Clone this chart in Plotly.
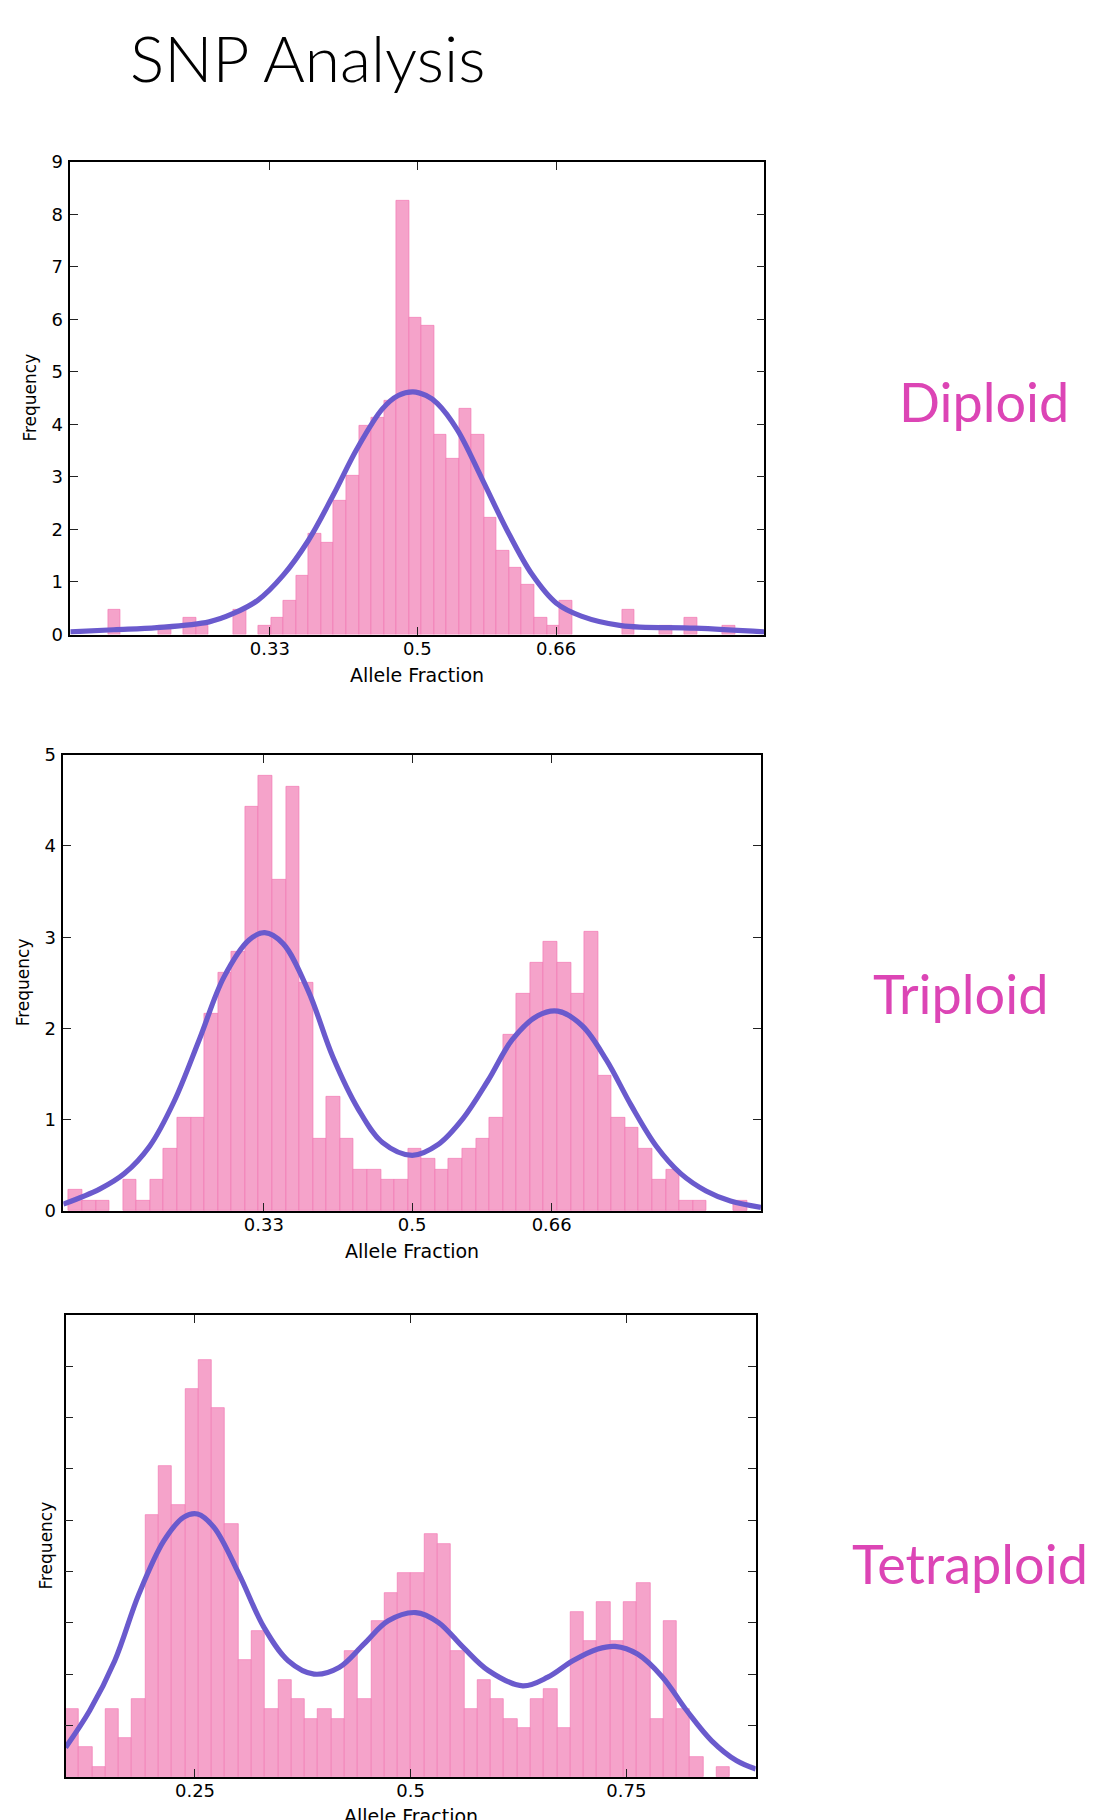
import plotly.graph_objects as go

# ---------------- data ----------------
DIPLOID_BIN_START = 0.1436
DIPLOID_BIN_WIDTH = 0.01445
DIPLOID_HEIGHTS = [0.48, 0, 0, 0, 0.16, 0, 0.32, 0.16, 0, 0,
                   0.48, 0, 0.16, 0.32, 0.64, 1.11, 1.91, 1.75, 2.54, 3.02,
                   3.97, 4.13, 4.45, 8.26, 6.04, 5.88, 3.81, 3.34, 4.29, 3.81,
                   2.22, 1.59, 1.27, 0.95, 0.32, 0.16, 0.64, 0, 0, 0,
                   0, 0.48, 0, 0, 0.16, 0, 0.32, 0, 0, 0.16]
DIPLOID_CURVE_X = [0.10, 0.15, 0.20, 0.26, 0.288, 0.316, 0.345, 0.374, 0.403, 0.431,
                   0.46, 0.478, 0.495, 0.51, 0.523, 0.546, 0.575, 0.603, 0.632, 0.66,
                   0.689, 0.735, 0.82, 0.90]
DIPLOID_CURVE_Y = [0.05, 0.09, 0.13, 0.24, 0.40, 0.65, 1.12, 1.78, 2.65, 3.55,
                   4.30, 4.55, 4.62, 4.55, 4.40, 3.90, 2.95, 2.00, 1.15, 0.60,
                   0.35, 0.17, 0.12, 0.05]

TRIPLOID_BIN_START = 0.1063
TRIPLOID_BIN_WIDTH = 0.01556
TRIPLOID_HEIGHTS = [0.23, 0.11, 0.11, 0, 0.34, 0.11, 0.34, 0.68, 1.02, 1.02,
                    2.16, 2.61, 2.84, 4.43, 4.77, 3.63, 4.65, 2.50, 0.79, 1.25,
                    0.79, 0.45, 0.45, 0.34, 0.34, 0.68, 0.57, 0.45, 0.57, 0.68,
                    0.79, 1.02, 1.93, 2.38, 2.72, 2.95, 2.72, 2.38, 3.06, 1.48,
                    1.02, 0.91, 0.68, 0.34, 0.45, 0.11, 0.11, 0, 0, 0.11]
TRIPLOID_CURVE_X = [0.10, 0.1416, 0.17, 0.199, 0.227, 0.256, 0.284, 0.313, 0.331, 0.352,
                    0.381, 0.409, 0.438, 0.466, 0.50, 0.53, 0.558, 0.587, 0.615, 0.644,
                    0.667, 0.695, 0.723, 0.751, 0.78, 0.808, 0.837, 0.865, 0.90]
TRIPLOID_CURVE_Y = [0.075, 0.24, 0.41, 0.71, 1.20, 1.88, 2.56, 2.97, 3.05, 2.93,
                    2.41, 1.69, 1.12, 0.75, 0.61, 0.73, 1.01, 1.43, 1.88, 2.14,
                    2.19, 2.03, 1.65, 1.16, 0.71, 0.41, 0.22, 0.11, 0.04]

TETRAPLOID_BIN_START = 0.100
TETRAPLOID_BIN_WIDTH = 0.0154
TETRAPLOID_HEIGHTS = [1.32, 0.57, 0.19, 1.32, 0.76, 1.51, 5.11, 6.05, 5.29, 7.56,
                      8.13, 7.19, 4.92, 2.27, 2.84, 1.32, 1.89, 1.51, 1.13, 1.32,
                      1.13, 2.46, 1.51, 3.03, 3.59, 3.97, 3.97, 4.73, 4.54, 2.46,
                      1.32, 1.89, 1.51, 1.13, 0.95, 1.51, 1.70, 0.95, 3.21, 2.65,
                      3.40, 2.65, 3.40, 3.78, 1.13, 3.03, 1.32, 0.38, 0, 0.19]
TETRAPLOID_CURVE_X = [0.10, 0.128, 0.157, 0.185, 0.214, 0.237, 0.253, 0.272, 0.301, 0.33,
                      0.358, 0.388, 0.417, 0.446, 0.474, 0.506, 0.532, 0.561, 0.59, 0.63,
                      0.659, 0.688, 0.717, 0.737, 0.763, 0.792, 0.82, 0.849, 0.878, 0.90]
TETRAPLOID_CURVE_Y = [0.57, 1.29, 2.26, 3.56, 4.60, 5.06, 5.12, 4.86, 3.95, 2.91,
                      2.26, 2.00, 2.13, 2.59, 3.04, 3.20, 3.01, 2.52, 2.07, 1.77,
                      1.94, 2.26, 2.49, 2.54, 2.39, 1.94, 1.29, 0.70, 0.31, 0.15]

DIPLOID_XTICKS = [0.33, 0.5, 0.66]
TRIPLOID_XTICKS = [0.33, 0.5, 0.66]
TETRAPLOID_XTICKS = [0.25, 0.5, 0.75]
DIPLOID_XTICKTEXT = ["0.33", "0.5", "0.66"]
TRIPLOID_XTICKTEXT = ["0.33", "0.5", "0.66"]
TETRAPLOID_XTICKTEXT = ["0.25", "0.5", "0.75"]

TITLE = "SNP Analysis"
X_TITLE = "Allele Fraction"
Y_TITLE = "Frequency"

# ---------------- styling / page geometry ----------------
W, H = 1096, 1820
BAR_FILL = "#F5A3CA"
BAR_EDGE = "#F27AB4"
CURVE = "#6A5ACD"
LABEL_PINK = "#DC45B5"
TICK_FONT = dict(family="DejaVu Sans", size=18, color="black")


def fx(p):
    """page pixel x -> paper fraction"""
    return p / W


def fy(p):
    """page pixel y -> paper fraction"""
    return 1 - p / H


panels = [
    dict(label="Diploid", start=DIPLOID_BIN_START, bw=DIPLOID_BIN_WIDTH, h=DIPLOID_HEIGHTS,
         cx=DIPLOID_CURVE_X, cy=DIPLOID_CURVE_Y, xt=DIPLOID_XTICKS, xtt=DIPLOID_XTICKTEXT,
         ymax=9, ylabels=True, box=(70.3, 764.3, 161.7, 634.5),
         lab=(983.5, 401), ytitle_x=30.5, xtitle_y=674.7),
    dict(label="Triploid", start=TRIPLOID_BIN_START, bw=TRIPLOID_BIN_WIDTH, h=TRIPLOID_HEIGHTS,
         cx=TRIPLOID_CURVE_X, cy=TRIPLOID_CURVE_Y, xt=TRIPLOID_XTICKS, xtt=TRIPLOID_XTICKTEXT,
         ymax=5, ylabels=True, box=(63.3, 761.0, 754.7, 1211.0),
         lab=(960.5, 993.3), ytitle_x=22.5, xtitle_y=1250.5),
    dict(label="Tetraploid", start=TETRAPLOID_BIN_START, bw=TETRAPLOID_BIN_WIDTH, h=TETRAPLOID_HEIGHTS,
         cx=TETRAPLOID_CURVE_X, cy=TETRAPLOID_CURVE_Y, xt=TETRAPLOID_XTICKS, xtt=TETRAPLOID_XTICKTEXT,
         ymax=9, ylabels=False, box=(65.6, 755.7, 1315.0, 1776.7),
         lab=(969.5, 1563.3), ytitle_x=45.7, xtitle_y=1816.0),
]

fig = go.Figure()
annotations = []
layout_axes = {}

for i, p in enumerate(panels, start=1):
    xa = "x" if i == 1 else f"x{i}"
    ya = "y" if i == 1 else f"y{i}"
    centers, heights = [], []
    for k, v in enumerate(p["h"]):
        if v > 0:
            centers.append(p["start"] + (k + 0.5) * p["bw"])
            heights.append(v)
    fig.add_trace(go.Bar(x=centers, y=heights, width=p["bw"], xaxis=xa, yaxis=ya,
                         marker=dict(color=BAR_FILL, line=dict(color=BAR_EDGE, width=0.7)),
                         showlegend=False, hoverinfo="skip"))
    fig.add_trace(go.Scatter(x=p["cx"], y=p["cy"], mode="lines", xaxis=xa, yaxis=ya,
                             line=dict(color=CURVE, width=5.2, shape="spline", smoothing=1.0),
                             showlegend=False, hoverinfo="skip"))
    l, r, t, b = p["box"]
    common = dict(showline=True, linecolor="black", linewidth=1.6, mirror="ticks",
                  ticks="inside", ticklen=8, tickwidth=1, tickcolor="#222222",
                  showgrid=False, zeroline=False, tickfont=TICK_FONT, fixedrange=True,
                  automargin=False)
    xkey = "xaxis" if i == 1 else f"xaxis{i}"
    ykey = "yaxis" if i == 1 else f"yaxis{i}"
    layout_axes[xkey] = dict(domain=[fx(l), fx(r)], range=[0.1, 0.9], anchor=ya,
                             tickvals=p["xt"], ticktext=p["xtt"], ticklabelstandoff=-3, **common)
    layout_axes[ykey] = dict(domain=[fy(b), fy(t)], range=[0, p["ymax"]], anchor=xa,
                             tickvals=list(range(p["ymax"] + 1)),
                             showticklabels=p["ylabels"], ticklabelstandoff=2, **common)
    annotations.append(dict(text=p["label"], x=fx(p["lab"][0]), y=fy(p["lab"][1]),
                            xref="paper", yref="paper", xanchor="center", yanchor="middle",
                            showarrow=False,
                            font=dict(family="Lato", size=54, color=LABEL_PINK)))
    annotations.append(dict(text=Y_TITLE, x=fx(p["ytitle_x"]), y=fy((t + b) / 2),
                            xref="paper", yref="paper", xanchor="center", yanchor="middle",
                            textangle=-90, showarrow=False,
                            font=dict(family="DejaVu Sans", size=17, color="black")))
    annotations.append(dict(text=X_TITLE, x=fx((l + r) / 2), y=fy(p["xtitle_y"]),
                            xref="paper", yref="paper", xanchor="center", yanchor="middle",
                            showarrow=False,
                            font=dict(family="DejaVu Sans", size=19, color="black")))

annotations.append(dict(text=TITLE, x=fx(307), y=fy(58), xref="paper", yref="paper",
                        xanchor="center", yanchor="middle", showarrow=False,
                        font=dict(family="Lato", size=64, color="black", weight=300)))

fig.update_layout(width=W, height=H, margin=dict(l=0, r=0, t=0, b=0, pad=0, autoexpand=False),
                  autosize=False,
                  paper_bgcolor="white", plot_bgcolor="white", bargap=0,
                  annotations=annotations, **layout_axes)

fig.write_html("out.html", config={"displayModeBar": False},
               post_script="document.documentElement.style.overflow='hidden';"
                           "document.body.style.margin='0';"
                           "document.body.style.overflow='hidden';")
